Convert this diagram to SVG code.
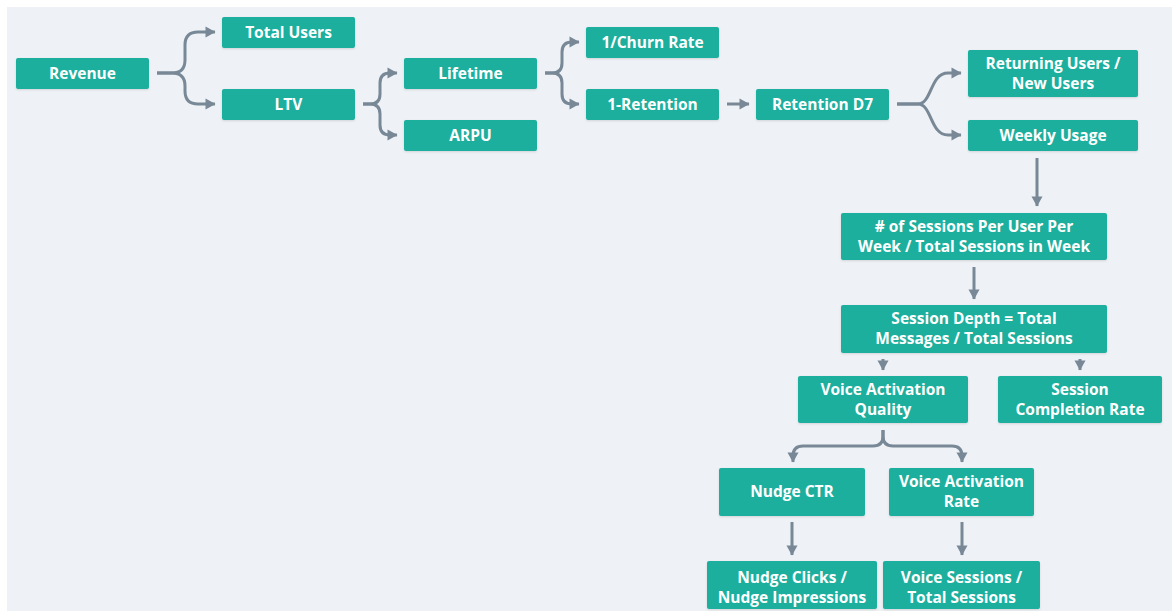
<svg xmlns="http://www.w3.org/2000/svg" width="1172" height="611" viewBox="0 0 1172 611">
<defs>
<marker id="ah" markerUnits="userSpaceOnUse" markerWidth="12" markerHeight="12" viewBox="0 0 12 12" refX="10" refY="6" orient="auto">
<path d="M0.5,0.5 L10.5,6 L0.5,11.5 Z" fill="#788896"/>
</marker>
<filter id="sh" x="-10%" y="-20%" width="120%" height="150%">
<feDropShadow dx="0" dy="1" stdDeviation="1" flood-color="#000" flood-opacity="0.12"/>
</filter>
</defs>
<style>
.n rect{fill:#1aaf9e;filter:url(#sh)}
.n text{fill:#fff;font-family:"Open Sans","Noto Sans","Liberation Sans",sans-serif;font-weight:700;font-size:15.5px;text-anchor:middle;dominant-baseline:central}
.c path{fill:none;stroke:#788896;stroke-width:3;stroke-linecap:butt;marker-end:url(#ah)}
</style>
<rect x="0" y="0" width="1172" height="611" fill="#ffffff"/>
<rect x="7" y="7" width="1165" height="604" fill="#eef2f6"/>
<g class="c" id="connectors">
<path d="M157,73 H172 Q185,73 185,60 V45 Q185,32 198,32 H215"/>
<path d="M157,73 H172 Q185,73 185,86 V91 Q185,104 198,104 H215"/>
<path d="M363,104 H370 Q380,104 380,94 V83 Q380,73 390,73 H397"/>
<path d="M363,104 H370 Q380,104 380,114 V125 Q380,135 390,135 H397"/>
<path d="M545,73 H552 Q562,73 562,63 V52 Q562,42 572,42 H579"/>
<path d="M545,73 H552 Q562,73 562,83 V94 Q562,104 572,104 H579"/>
<path d="M727,104 H749"/>
<path d="M897,104 H918 C932,104 930,73 948,73 H961"/>
<path d="M897,104 H918 C932,104 930,135 948,135 H961"/>
<path d="M1037,158 V206"/>
<path d="M974,267 V299"/>
<path d="M883,359 V370"/>
<path d="M1080,359 V370"/>
<path d="M883,430 V436 Q883,446 873,446 H803 Q793,446 793,456 V462"/>
<path d="M883,430 V436 Q883,446 893,446 H952 Q962,446 962,456 V462"/>
<path d="M792,522 V555"/>
<path d="M962,522 V555"/>
</g>
<g class="n" id="revenue"><rect x="16" y="58" width="133" height="31" rx="2"/><text x="82.5" y="72.5">Revenue</text></g>
<g class="n" id="total-users"><rect x="222" y="17" width="133" height="31" rx="2"/><text x="288.5" y="31.5">Total Users</text></g>
<g class="n" id="ltv"><rect x="222" y="89" width="133" height="31" rx="2"/><text x="288.5" y="103.5">LTV</text></g>
<g class="n" id="lifetime"><rect x="404" y="58" width="133" height="31" rx="2"/><text x="470.5" y="72.5">Lifetime</text></g>
<g class="n" id="arpu"><rect x="404" y="120" width="133" height="31" rx="2"/><text x="470.5" y="134.5">ARPU</text></g>
<g class="n" id="churn"><rect x="586" y="27" width="133" height="31" rx="2"/><text x="652.5" y="41.5">1/Churn Rate</text></g>
<g class="n" id="one-retention"><rect x="586" y="89" width="133" height="31" rx="2"/><text x="652.5" y="103.5">1-Retention</text></g>
<g class="n" id="retention-d7"><rect x="756" y="89" width="133" height="31" rx="2"/><text x="822.5" y="103.5">Retention D7</text></g>
<g class="n" id="returning"><rect x="968" y="50" width="170" height="47" rx="2"/><text x="1053" y="62.5">Returning Users /</text><text x="1053" y="82.5">New Users</text></g>
<g class="n" id="weekly-usage"><rect x="968" y="120" width="170" height="31" rx="2"/><text x="1053" y="134.5">Weekly Usage</text></g>
<g class="n" id="sessions-per-user"><rect x="841" y="213" width="266" height="47" rx="2"/><text x="974" y="225.5"># of Sessions Per User Per</text><text x="974" y="245.5">Week / Total Sessions in Week</text></g>
<g class="n" id="session-depth"><rect x="841" y="305" width="266" height="48" rx="2"/><text x="974" y="318">Session Depth = Total</text><text x="974" y="338">Messages / Total Sessions</text></g>
<g class="n" id="voice-activation-quality"><rect x="798" y="376" width="170" height="47" rx="2"/><text x="883" y="388.5">Voice Activation</text><text x="883" y="408.5">Quality</text></g>
<g class="n" id="session-completion"><rect x="998" y="376" width="164" height="47" rx="2"/><text x="1080" y="388.5">Session</text><text x="1080" y="408.5">Completion Rate</text></g>
<g class="n" id="nudge-ctr"><rect x="719" y="468" width="146" height="48" rx="2"/><text x="792" y="491">Nudge CTR</text></g>
<g class="n" id="voice-activation-rate"><rect x="889" y="468" width="145" height="48" rx="2"/><text x="961.5" y="481">Voice Activation</text><text x="961.5" y="501">Rate</text></g>
<g class="n" id="nudge-clicks"><rect x="707" y="561" width="170" height="48" rx="2"/><text x="792" y="577">Nudge Clicks /</text><text x="792" y="597">Nudge Impressions</text></g>
<g class="n" id="voice-sessions"><rect x="883" y="561" width="157" height="48" rx="2"/><text x="961.5" y="577">Voice Sessions /</text><text x="961.5" y="597">Total Sessions</text></g>
</svg>
